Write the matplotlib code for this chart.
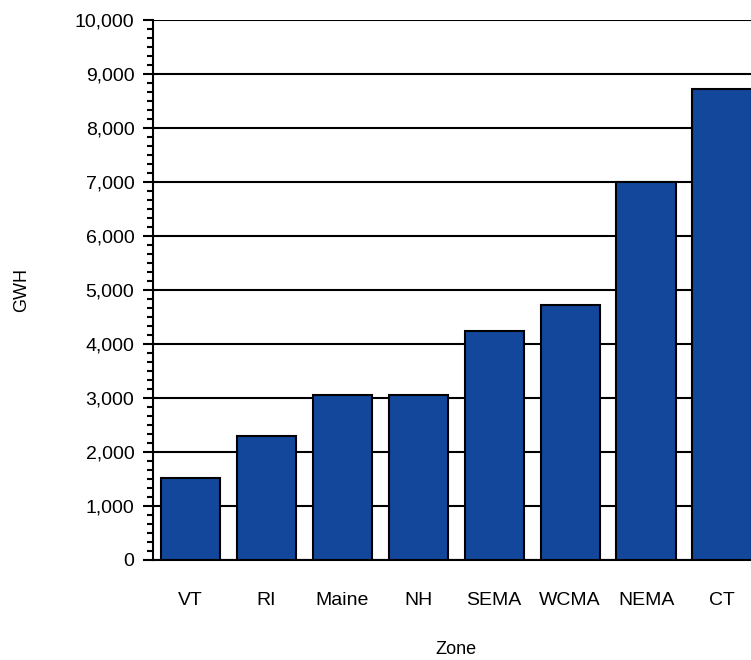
import matplotlib
matplotlib.use("Agg")
import matplotlib.pyplot as plt
from matplotlib.ticker import MultipleLocator, FuncFormatter

zones = ["VT", "RI", "Maine", "NH", "SEMA", "WCMA", "NEMA", "CT"]
gwh = [1520, 2300, 3060, 3060, 4250, 4730, 7000, 8730]

plt.rcParams['font.family'] = ['Liberation Sans', 'DejaVu Sans']

W, H = 751, 660
fig = plt.figure(figsize=(W/100, H/100), dpi=100)
left, right, top, bottom = 152.5, 760, 20, 560
ax = fig.add_axes([left/W, 1 - bottom/H, (right-left)/W, (bottom-top)/H])

x = list(range(len(zones)))
ax.bar(x, gwh, width=0.78, color="#12479b", edgecolor="black", linewidth=1.5, zorder=3)

ax.set_xlim(-0.5, len(zones) - 0.5)
ax.set_ylim(0, 10000)
ax.yaxis.set_major_locator(MultipleLocator(1000))
ax.yaxis.set_minor_locator(MultipleLocator(1000/6))
ax.yaxis.set_major_formatter(FuncFormatter(lambda v, p: f"{int(v):,}"))
ax.grid(axis="y", which="major", color="black", linewidth=1.5, zorder=0)
ax.set_axisbelow(True)

ax.set_xticks(x)
ax.set_xticklabels(zones, fontsize=14)
ax.tick_params(axis="x", length=0, pad=23)
ax.tick_params(axis="y", which="major", length=7, width=1.5, labelsize=14, pad=6, direction="out")
ax.tick_params(axis="y", which="minor", length=4.5, width=1.5, direction="out")

for s in ["top", "right"]:
    ax.spines[s].set_visible(False)
ax.spines["left"].set_linewidth(1.5)
ax.spines["bottom"].set_linewidth(1.5)

ax.set_ylabel("GWH", fontsize=13, labelpad=32)
ax.set_xlabel("Zone", fontsize=13, labelpad=23)

fig.savefig("out.png", dpi=100)
